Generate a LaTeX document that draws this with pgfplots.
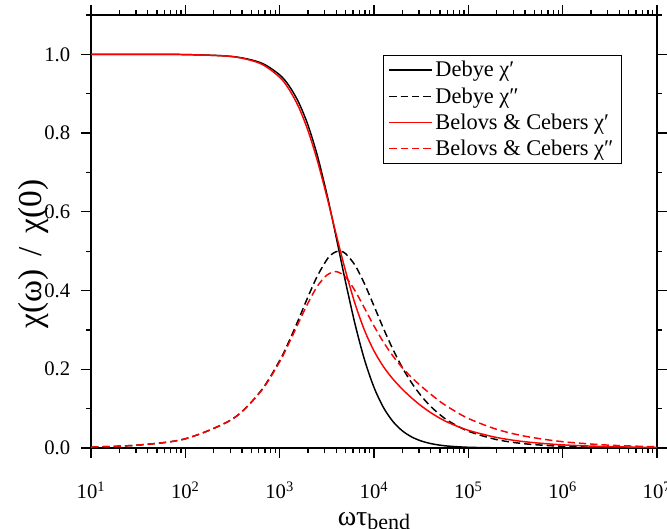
\documentclass[border=0pt]{standalone}
\usepackage{fontspec}
\setmainfont{Liberation Serif}
\usepackage{pgfplots}
\usepackage{pgfplotstable}
\pgfplotsset{compat=1.18}

\pgfplotstableread{
x re im
10 1.00000 0.00234
31.62 0.99995 0.00741
100 0.99945 0.02343
316.2 0.99453 0.07372
631.0 0.97859 0.14474
1000 0.94791 0.22220
1259 0.91988 0.27146
1585 0.87873 0.32640
1995 0.82051 0.38380
2512 0.74257 0.43720
3162 0.64537 0.47840
3548 0.59110 0.49170
3981 0.53447 0.49880
4467 0.47700 0.49940
5012 0.42010 0.49360
6310 0.31369 0.46400
7943 0.22385 0.41680
10000 0.15395 0.36090
12589 0.10299 0.30390
15849 0.06755 0.25100
19953 0.04371 0.20440
25119 0.02803 0.16510
31623 0.01787 0.13250
39811 0.01135 0.10590
50119 0.00719 0.08450
63096 0.00455 0.06730
100000 0.00182 0.04260
199526 0.00046 0.02137
398107 0.00011 0.01071
1000000 0.00002 0.00427
3162278 0.000002 0.00135
10000000 0.0000002 0.00043
}\debye

\pgfplotstableread{
x re im
10 1.00000 0.00234
31.62 0.99995 0.00742
100 0.99940 0.02340
316.2 0.99425 0.07359
631.0 0.97610 0.14369
1000 0.94172 0.21900
1259 0.91096 0.26700
1585 0.86685 0.31800
1995 0.80664 0.36800
2512 0.72958 0.41100
3162 0.63887 0.43900
3981 0.54190 0.44800
5012 0.44818 0.43400
6310 0.36578 0.39900
7943 0.29868 0.35500
10000 0.24664 0.31000
12589 0.20674 0.26900
15849 0.17538 0.23400
19953 0.14943 0.20400
25119 0.12696 0.17900
31623 0.10709 0.15700
39811 0.09004 0.13700
50119 0.07547 0.11800
63096 0.06341 0.10200
100000 0.04492 0.07500
199526 0.02671 0.04750
398107 0.01591 0.03000
1000000 0.00796 0.01600
3162278 0.00335 0.00715
10000000 0.00142 0.00312
}\belovs

\begin{document}
\begin{tikzpicture}
\begin{axis}[
  scale only axis,
  width=424.5pt, height=324.75pt,
  xmode=log, log basis x=10,
  xmin=10, xmax=1e7, ymin=0, ymax=1.1,
  xtick={10,100,1000,10000,100000,1000000,10000000},
  xticklabels={10\textsuperscript{1},10\textsuperscript{2},10\textsuperscript{3},10\textsuperscript{4},10\textsuperscript{5},10\textsuperscript{6},10\textsuperscript{7}},
  minor xtick={20,30,40,50,60,70,80,90,200,300,400,500,600,700,800,900,2000,3000,4000,5000,6000,7000,8000,9000,20000,30000,40000,50000,60000,70000,80000,90000,200000,300000,400000,500000,600000,700000,800000,900000,2000000,3000000,4000000,5000000,6000000,7000000,8000000,9000000},
  ytick={0,0.2,0.4,0.6,0.8,1.0},
  yticklabels={0.0,0.2,0.4,0.6,0.8,1.0},
  minor ytick={0.1,0.3,0.5,0.7,0.9,1.1},
  tick align=outside,
  major tick length=7.5pt, minor tick length=3.75pt,
  tick style={line width=1pt, black},
  axis line style={line width=1.2pt},
  ticklabel style={font=\fontsize{15.5}{18}\selectfont},
  xticklabel style={anchor=base, yshift=-30pt},
  yticklabel style={anchor=east, inner sep=0pt, xshift=-8pt},
  every axis x label/.style={at={(axis description cs:0.5,0)}, anchor=base, yshift=-57.75pt},
  every axis y label/.style={at={(axis description cs:-0.1025,0.448)}, rotate=90, anchor=center},
  xlabel={\fontsize{21}{24}\selectfont ωτ\raisebox{-0.35ex}{\fontsize{16.5}{18}\selectfont bend}},
  ylabel={\fontsize{25}{28}\selectfont χ(ω)\hspace{0.4em}/\hspace{0.4em}χ(0)},
  legend style={at={(axis description cs:0.938,0.908)}, anchor=north east, draw=black, line width=0.8pt,
    font=\fontsize{16.8}{19}\selectfont, inner xsep=4pt, inner ysep=2.5pt, row sep=2.5pt},
  legend cell align=left,
  legend image code/.code={\draw[#1] (0pt,0pt) -- (28pt,0pt); \path (0pt,0pt) -- (32pt,0pt);},
]
\addplot[black, line width=1.1pt, smooth] table[x=x, y=re] {\debye};
\addlegendentry{Debye χ′}
\addplot[black, line width=1.1pt, dash pattern=on 5.5pt off 3pt, smooth] table[x=x, y=im] {\debye};
\addlegendentry{Debye χ″}
\addplot[red, line width=1.1pt, smooth] table[x=x, y=re] {\belovs};
\addlegendentry{Belovs \& Cebers χ′}
\addplot[red, line width=1.1pt, dash pattern=on 5.5pt off 3pt, smooth] table[x=x, y=im] {\belovs};
\addlegendentry{Belovs \& Cebers χ″}
\coordinate (sw) at (rel axis cs:0,0);
\coordinate (ne) at (rel axis cs:1,1);
\end{axis}
\pgfresetboundingbox
\path[use as bounding box] ([xshift=-68.25pt,yshift=-60pt]sw) rectangle ([xshift=7.5pt,yshift=11.25pt]ne);
\end{tikzpicture}
\end{document}
